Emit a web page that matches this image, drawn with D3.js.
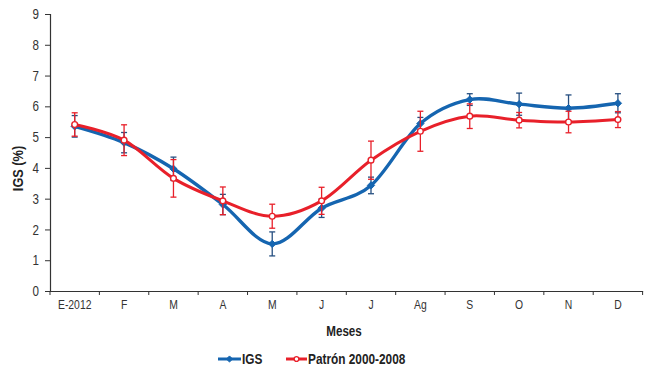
<!DOCTYPE html>
<html>
<head>
<meta charset="utf-8">
<script src="https://cdn.jsdelivr.net/npm/d3@7"></script>
<style>
  body { margin: 0; background: #fff; }
  text { font-family: "Liberation Sans Narrow", "Arial Narrow", "Liberation Sans", Arial, sans-serif; }
</style>
</head>
<body>
<svg id="chart" width="647" height="370"></svg>
<script>
// months on the x axis
const months = ["E-2012", "F", "M", "A", "M ", "J", "J ", "Ag", "S", "O", "N", "D"];
const monthLabels = ["E-2012", "F", "M", "A", "M", "J", "J", "Ag", "S", "O", "N", "D"];

// IGS 2012 and its error
const igs    = [5.35, 4.82, 3.97, 2.81, 1.53, 2.69, 3.43, 5.44, 6.22, 6.07, 5.94, 6.10];
const igsErr = [0.35, 0.33, 0.38, 0.33, 0.39, 0.30, 0.27, 0.20, 0.19, 0.36, 0.43, 0.31];

// Patron 2000-2008 and its error
const patron    = [5.41, 4.90, 3.66, 2.93, 2.43, 2.93, 4.25, 5.19, 5.68, 5.55, 5.49, 5.57];
const patronErr = [0.38, 0.50, 0.61, 0.45, 0.39, 0.44, 0.62, 0.65, 0.40, 0.25, 0.35, 0.26];

const yTicks = [0, 1, 2, 3, 4, 5, 6, 7, 8, 9];

const svg = d3.select("#chart");
const margin = {top: 14, right: 4, bottom: 79, left: 50};
const width = 647, height = 370;

// the original uses a narrow face; squeeze the text horizontally
function condense(sel, k) {
  sel.each(function() {
    let t = d3.select(this);
    let x0 = +(t.attr("x") || 0);
    t.attr("x", x0 / k).attr("transform", `scale(${k},1)`);
  });
}

let x = d3.scaleBand()
  .domain(months)
  .range([margin.left, 642.6]);

let y = d3.scaleLinear()
  .domain([0, 9])
  .range([height - margin.bottom, margin.top]);

// y axis
let yAxis = g => g
  .attr("transform", `translate(${margin.left},0)`)
  .call(d3.axisLeft(y).tickValues(yTicks).tickSize(5).tickPadding(6))
  .call(g => g.select(".domain").attr("stroke", "#333").attr("stroke-width", 1.2))
  .call(g => g.selectAll(".tick line").attr("stroke", "#333"))
  .call(g => g.selectAll(".tick text")
      .attr("font-family", null)
      .attr("font-size", 14.5).attr("fill", "#333")
      .call(condense, 0.8));

// x axis: labels centred, ticks on the band edges
let xAxis = g => g
  .attr("transform", `translate(0,${y(0)})`)
  .call(d3.axisBottom(x).tickSize(0).tickPadding(9).tickFormat((d, i) => monthLabels[i]))
  .call(g => g.select(".domain").attr("stroke", "#333").attr("stroke-width", 1.2))
  .call(g => g.selectAll(".tick text")
      .attr("font-family", null)
      .attr("font-size", 12.5).attr("fill", "#333")
      .call(condense, 0.83));

svg.append("g").call(xAxis);
svg.append("g").call(yAxis);

svg.append("g")
  .selectAll("line")
  .data(months.map(d => x(d)).concat([x.range()[1]]))
  .join("line")
  .attr("x1", d => d).attr("x2", d => d)
  .attr("y1", y(0)).attr("y2", y(0) + 4)
  .attr("stroke", "#333");

// axis titles
svg.append("text")
  .attr("transform", `translate(23,${(y(0) + y(9)) / 2 + 16}) rotate(-90) scale(0.85,1)`)
  .attr("text-anchor", "middle")
  .attr("font-weight", "bold")
  .attr("font-size", 15)
  .attr("fill", "#222")
  .text("IGS (%)");

svg.append("g")
  .attr("transform", "translate(344,336)")
  .append("text")
  .attr("text-anchor", "middle")
  .attr("font-weight", "bold")
  .attr("font-size", 14.5)
  .attr("fill", "#222")
  .attr("transform", "scale(0.8,1)")
  .text("Meses");

const cx = d => x(d) + x.bandwidth() / 2;

function drawSeries(values, errs, color, errColor, width, marker) {
  let line = d3.line()
    .curve(d3.curveCardinal.tension(0))
    .x((d, i) => cx(months[i]))
    .y(d => y(d));

  svg.append("path")
    .datum(values)
    .attr("fill", "none")
    .attr("stroke", color)
    .attr("stroke-width", width)
    .attr("stroke-linejoin", "round")
    .attr("d", line);

  let eb = svg.append("g")
    .attr("stroke", errColor)
    .attr("stroke-width", 1.3)
    .selectAll("g")
    .data(values.map((v, i) => ({m: months[i], v: v, e: errs[i]})))
    .join("g");
  eb.append("line")
    .attr("x1", d => cx(d.m)).attr("x2", d => cx(d.m))
    .attr("y1", d => y(d.v + d.e)).attr("y2", d => y(d.v - d.e));
  eb.append("line")
    .attr("x1", d => cx(d.m) - 3).attr("x2", d => cx(d.m) + 3)
    .attr("y1", d => y(d.v + d.e)).attr("y2", d => y(d.v + d.e));
  eb.append("line")
    .attr("x1", d => cx(d.m) - 3).attr("x2", d => cx(d.m) + 3)
    .attr("y1", d => y(d.v - d.e)).attr("y2", d => y(d.v - d.e));

  svg.append("g")
    .selectAll("path")
    .data(values)
    .join("path")
    .attr("transform", (d, i) => `translate(${cx(months[i])},${y(d)})`)
    .attr("d", marker.path)
    .attr("fill", marker.fill)
    .attr("stroke", color)
    .attr("stroke-width", marker.stroke);
}

const diamond = {path: d3.symbol(d3.symbolDiamond2, 34)(), fill: "#1565b0", stroke: 1};
const circle = {path: d3.symbol(d3.symbolCircle, 26)(), fill: "#fff", stroke: 1.4};

drawSeries(igs, igsErr, "#1565b0", "#264f80", 3.4, diamond);
drawSeries(patron, patronErr, "#e8202a", "#e8202a", 3, circle);

// legend
const legend = [
  {name: "IGS", color: "#1565b0", marker: diamond, x0: 218, x1: 241},
  {name: "Patrón 2000-2008", color: "#e8202a", marker: circle, x0: 286, x1: 307}
];
let lg = svg.append("g")
  .selectAll("g")
  .data(legend)
  .join("g");
lg.append("line")
  .attr("x1", d => d.x0).attr("x2", d => d.x1)
  .attr("y1", 359).attr("y2", 359)
  .attr("stroke", d => d.color)
  .attr("stroke-width", 3);
lg.append("path")
  .attr("transform", d => `translate(${(d.x0 + d.x1) / 2},359)`)
  .attr("d", d => d.name === "IGS" ? d3.symbol(d3.symbolDiamond2, 24)() : d3.symbol(d3.symbolCircle, 18)())
  .attr("fill", d => d.marker.fill)
  .attr("stroke", d => d.color)
  .attr("stroke-width", d => d.marker.stroke);
lg.append("g")
  .attr("transform", d => `translate(${d.x1 + 1},364)`)
  .append("text")
  .attr("font-weight", "bold")
  .attr("font-size", 15)
  .attr("fill", "#222")
  .attr("transform", "scale(0.79,1)")
  .text(d => d.name);
</script>
</body>
</html>
